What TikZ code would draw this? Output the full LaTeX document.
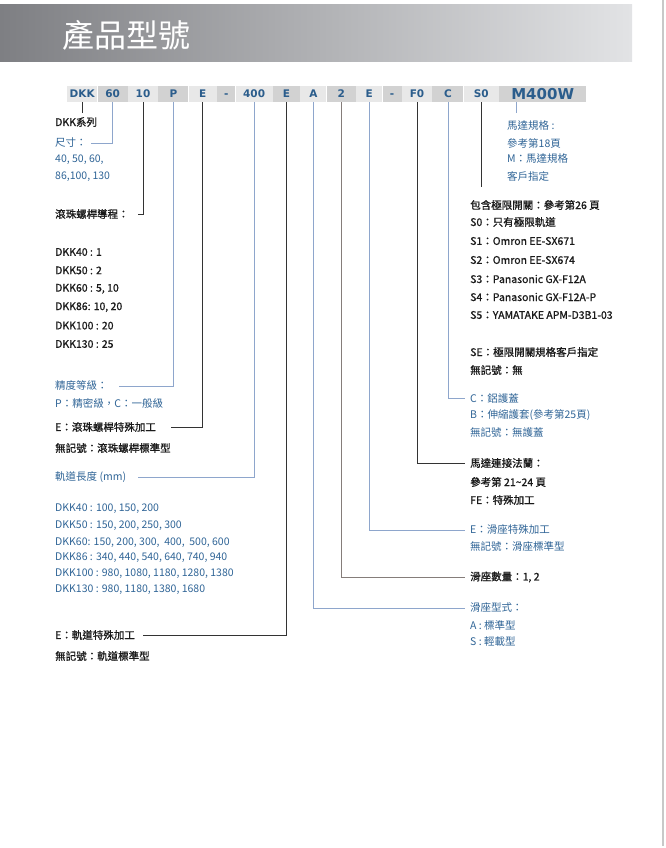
\documentclass[tikz,border=0pt]{standalone}
\usepackage{fontspec}
\setmainfont{Noto Sans CJK TC}
\newfontfamily\medfont{Noto Sans CJK TC}[FakeBold=1]
\newfontfamily\codefont{DejaVu Sans}
\usetikzlibrary{positioning}

\definecolor{txtblue}{HTML}{2F6496}
\definecolor{txtblack}{HTML}{1A1A1A}
\definecolor{codeblue}{HTML}{2B5D8C}
\definecolor{barlight}{HTML}{E8E8E8}
\definecolor{bardark}{HTML}{D2D2D2}
\definecolor{lineblue}{HTML}{8EA6CC}
\definecolor{lineblack}{HTML}{333333}
\definecolor{linegray}{HTML}{857D7A}
\definecolor{bannerL}{HTML}{7E7F83}
\definecolor{bannerR}{HTML}{E2E3E5}
\definecolor{frame}{HTML}{C8C8C8}

\begin{document}
\begin{tikzpicture}[x=1pt,y=-1pt,
    seg/.style={minimum height=16pt, inner sep=0pt, text height=7.5pt, text depth=0pt,
      font=\codefont\bfseries\fontsize{10.5}{10.5}\selectfont, text=codeblue},
    segL/.style={seg, fill=barlight},
    segD/.style={seg, fill=bardark},
    lbl/.style={anchor=west, inner sep=1pt},
    blk/.style={lbl, text=txtblack, font=\medfont\fontsize{10.5}{12}\selectfont},
    blu/.style={lbl, text=txtblue, font=\fontsize{10.5}{12}\selectfont},
    bline/.style={draw=lineblue, line width=0.8pt},
    kline/.style={draw=lineblack, line width=0.8pt},
    gline/.style={draw=linegray, line width=0.8pt}
  ]
  \useasboundingbox (0,0) rectangle (666,848);

  % Title banner
  \shade[left color=bannerL, right color=bannerR] (0,5) rectangle (632,62);
  \node[anchor=west, inner sep=0pt, text=white, font=\fontsize{32}{32}\selectfont] (title) at (62,35) {產品型號};
  \draw[draw=frame, line width=1.5pt] (663,0) -- (663,846);

  % Code bar
  \node[segL, minimum width=30pt, anchor=west] (cDKK) at (67,94) {DKK};
  \node[segD, minimum width=30pt, right=0pt of cDKK] (c60) {60};
  \node[segL, minimum width=30pt, right=0pt of c60] (c10) {10};
  \node[segD, minimum width=30pt, right=0pt of c10] (cP) {P};
  \node[segL, minimum width=28pt, right=0pt of cP] (cBE) {E};
  \node[segD, minimum width=18pt, right=0pt of cBE] (cD1) {-};
  \node[segL, minimum width=37pt, right=0pt of cD1] (c400) {400};
  \node[segD, minimum width=27pt, right=0pt of c400] (cRE) {E};
  \node[segL, minimum width=26pt, right=0pt of cRE] (cA) {A};
  \node[segD, minimum width=29pt, right=0pt of cA] (c2) {2};
  \node[segL, minimum width=26pt, right=0pt of c2] (cSE) {E};
  \node[segD, minimum width=19pt, right=0pt of cSE] (cD2) {-};
  \node[segL, minimum width=30pt, right=0pt of cD2] (cF0) {F0};
  \node[segD, minimum width=31pt, right=0pt of cF0] (cC) {C};
  \node[segL, minimum width=35pt, right=0pt of cC] (cS0) {S0};
  \node[segD, minimum width=87pt, right=0pt of cS0, text height=10.5pt,
    font=\codefont\bfseries\fontsize{15}{15}\selectfont] (cM) {M400W};

  % Left labels
  \node[blk] (dkkser) at (54,122) {DKK系列};
  \node[blu] (size) at (54,143) {尺寸：};
  \node[blu] (size1) at (54,160) {40, 50, 60,};
  \node[blu] (size2) at (54,177) {86,100, 130};
  \node[blk] (lead) at (54,214) {滾珠螺桿導程：};
  \foreach \y/\t [count=\i] in {252/{DKK40 : 1}, 270.4/{DKK50 : 2}, 288.8/{DKK60 : 5, 10},
      307.2/{DKK86: 10, 20}, 325.6/{DKK100 : 20}, 344/{DKK130 : 25}}
    \node[blk] (lead\i) at (54,\y) {\t};
  \node[blu] (grade) at (54,386) {精度等級：};
  \node[blu] (grade1) at (54,404) {P：精密級，C：一般級};
  \node[blk] (bse) at (54,427) {E：滾珠螺桿特殊加工};
  \node[blk] (bstd) at (54,448) {無記號：滾珠螺桿標準型};
  \node[blu] (rlen) at (54,477) {軌道長度 (mm)};
  \foreach \y/\t [count=\i] in {509/{DKK40 : 100, 150, 200}, 526/{DKK50 : 150, 200, 250, 300},
      543/{DKK60: 150, 200, 300,\ \ 400,\ \ 500, 600}, 558/{DKK86 : 340, 440, 540, 640, 740, 940},
      574/{DKK100 : 980, 1080, 1180, 1280, 1380}, 590/{DKK130 : 980, 1180, 1380, 1680}}
    \node[blu] (rlen\i) at (54,\y) {\t};
  \node[blk] (rse) at (54,635) {E：軌道特殊加工};
  \node[blk] (rstd) at (54,656) {無記號：軌道標準型};

  % Right labels
  \node[blu] (mspec) at (506,126) {馬達規格 :};
  \node[blu] (mspec1) at (506,143) {參考第18頁};
  \node[blu] (mspec2) at (506,159) {M：馬達規格};
  \node[blu] (mspec3) at (506,176) {客戶指定};
  \node[blk] (limit) at (469,205) {包含極限開關：參考第26 頁};
  \foreach \y/\t [count=\i] in {222/{S0：只有極限軌道}, 241/{S1：Omron EE-SX671},
      260/{S2：Omron EE-SX674}, 279/{S3：Panasonic GX-F12A}, 297/{S4：Panasonic GX-F12A-P},
      315/{S5：YAMATAKE APM-D3B1-03}, 352/{SE：極限開關規格客戶指定}, 370/{無記號：無}}
    \node[blk] (limit\i) at (469,\y) {\t};
  \node[blu] (cover) at (469,398) {C：鋁護蓋};
  \node[blu] (cover1) at (469,415) {B：伸縮護套(參考第25頁)};
  \node[blu] (cover2) at (469,432) {無記號：無護蓋};
  \node[blk] (flange) at (469,463) {馬達連接法蘭：};
  \node[blk] (flange1) at (469,482) {參考第 21\textasciitilde 24 頁};
  \node[blk] (flange2) at (469,500) {FE：特殊加工};
  \node[blu] (sse) at (469,530) {E：滑座特殊加工};
  \node[blu] (sstd) at (469,547) {無記號：滑座標準型};
  \node[blk] (snum) at (469,577) {滑座數量：1, 2};
  \node[blu] (stype) at (469,608) {滑座型式：};
  \node[blu] (stype1) at (469,625) {A : 標準型};
  \node[blu] (stype2) at (469,642) {S : 輕載型};

  % Connectors
  \draw[kline] (cDKK.south) -- ++(0,11);
  \draw[bline] (c60.south) |- ([xshift=3pt]size.east);
  \draw[kline] (c10.south) |- ([xshift=8pt]lead.east);
  \draw[bline] (cP.south) |- ([xshift=10pt]grade.east);
  \draw[kline] (cBE.south) |- ([xshift=14pt]bse.east);
  \draw[bline] (c400.south) |- ([xshift=11pt]rlen.east);
  \draw[kline] (cRE.south) |- ([xshift=7pt]rse.east);
  \draw[bline] (cA.south) |- ([xshift=-4pt]stype.west);
  \draw[gline] (c2.south) |- ([xshift=-4pt]snum.west);
  \draw[bline] (cSE.south) |- ([xshift=-4pt]sse.west);
  \draw[kline] (cF0.south) |- ([xshift=-4pt]flange.west);
  \draw[bline] (cC.south) |- ([xshift=-4pt]cover.west);
  \draw[kline] (cS0.south) -- ++(0,85);
  \draw[bline] ([xshift=-26pt]cM.south) -- ++(0,11);
\end{tikzpicture}
\end{document}
